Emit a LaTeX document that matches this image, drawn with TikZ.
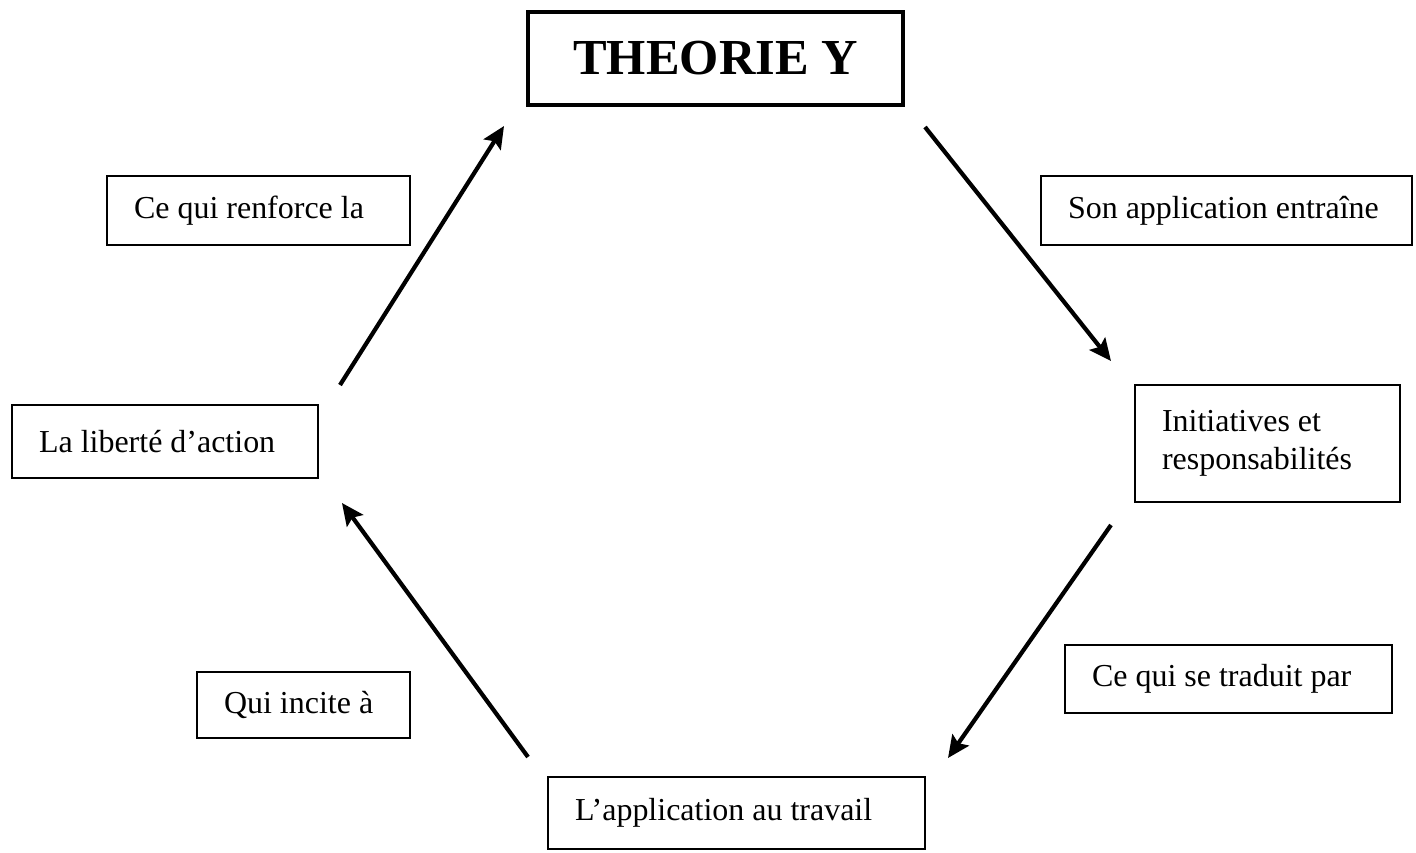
\documentclass[tikz,border=0pt]{standalone}
\usepackage{fontspec}
\setmainfont{Liberation Serif}
\usetikzlibrary{arrows.meta}

\tikzset{
    boite/.style = {draw, line width = 1.6pt, inner xsep = 0.54cm, inner ysep = 0pt, align = flush left,
        font = \fontsize{18.2}{21.5}\selectfont},
    fleche/.style = {line width = 2.4pt, -{Stealth[length = 0.44cm, width = 0.4cm, inset = 0.08cm]}}
}

\begin{document}
\begin{tikzpicture}[x = 0.02cm, y = -0.02cm]
    \useasboundingbox (0, 0) rectangle (1416, 852);

    % the theory at the top
    \node [boite, line width = 2pt, align = center, minimum width = 7.5cm, minimum height = 1.86cm,
        font = \fontsize{28.7}{32}\selectfont\bfseries] (theorie) at (715.5, 58.5) {THEORIE Y};

    % steps of the cycle
    \node [boite, text width = 5.04cm, minimum height = 1.46cm] (liberte) at (165, 441.5) {La liberté d’action};
    \node [boite, text width = 4.22cm, minimum height = 2.34cm] (initiatives) at (1267.5, 443.5) {Initiatives et\\responsabilités};
    \node [boite, text width = 6.46cm, minimum height = 1.44cm] (travail) at (736.5, 813) {L’application au travail};

    % links between the steps
    \node [boite, text width = 4.98cm, minimum height = 1.38cm] (renforce) at (258.5, 210.5) {Ce qui renforce la};
    \node [boite, text width = 6.34cm, minimum height = 1.38cm] (entraine) at (1226.5, 210.5) {Son application entraîne};
    \node [boite, text width = 5.46cm, minimum height = 1.36cm] (traduit) at (1228.5, 679) {Ce qui se traduit par};
    \node [boite, text width = 3.18cm, minimum height = 1.32cm] (incite) at (303.5, 705) {Qui incite à};

    % arrow ends
    \coordinate (d1) at (925, 127);
    \coordinate (f1) at (1111, 361);
    \coordinate (d2) at (1111, 525);
    \coordinate (f2) at (948, 758);
    \coordinate (d3) at (528, 757);
    \coordinate (f3) at (342, 503);
    \coordinate (d4) at (340, 385);
    \coordinate (f4) at (504, 126);

    \draw [fleche] (d1) -- (f1);
    \draw [fleche] (d2) -- (f2);
    \draw [fleche] (d3) -- (f3);
    \draw [fleche] (d4) -- (f4);
\end{tikzpicture}
\end{document}
